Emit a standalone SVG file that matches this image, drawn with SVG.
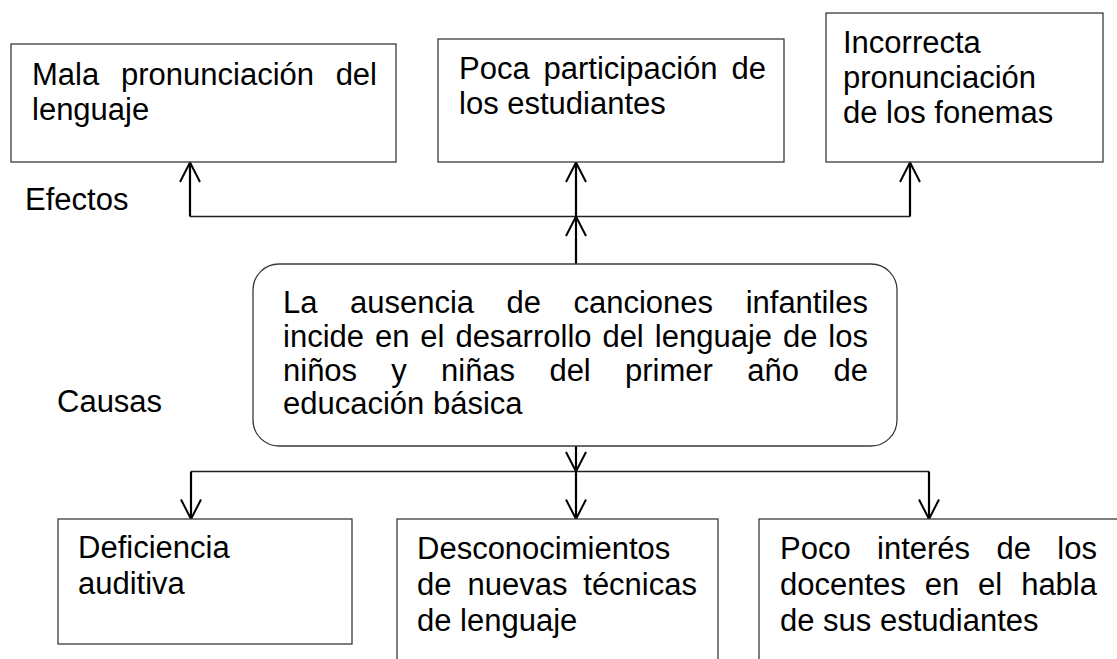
<svg xmlns="http://www.w3.org/2000/svg" width="1117" height="659" viewBox="0 0 1117 659">
<defs>
<marker id="v" markerUnits="userSpaceOnUse" markerWidth="30" markerHeight="30" refX="0" refY="0" orient="auto" overflow="visible" viewBox="-25 -15 30 30">
<path d="M-19.5,-10 L0,0 L-19.5,10" fill="none" stroke="#000" stroke-width="2"/>
</marker>
<style>
.box{fill:#fff;stroke:#3a3a3a;stroke-width:1.3}
.t{font-family:"Liberation Sans",Arial,sans-serif;font-size:31px;fill:#000}
.arr{stroke:#000;stroke-width:2.2;fill:none;marker-end:url(#v)}
.ln{stroke:#222;stroke-width:1.3;fill:none}
</style>
</defs>
<rect width="1117" height="659" fill="#fff"/>
<g id="connectors">
<line class="ln" x1="190" y1="216.5" x2="910" y2="216.5"/>
<line class="arr" x1="190" y1="216.5" x2="190" y2="162.5"/>
<line class="arr" x1="576" y1="216.5" x2="576" y2="162.5"/>
<line class="arr" x1="910" y1="216.5" x2="910" y2="162.5"/>
<line class="arr" x1="576" y1="264" x2="576" y2="216.5"/>
<line class="arr" x1="576" y1="446" x2="576" y2="471.5"/>
<line class="ln" x1="191" y1="471.5" x2="929" y2="471.5"/>
<line class="arr" x1="191" y1="471.5" x2="191" y2="519"/>
<line class="arr" x1="576" y1="471.5" x2="576" y2="519"/>
<line class="arr" x1="929" y1="471.5" x2="929" y2="519"/>
</g>
<g id="efectos-label"><text class="t" x="25" y="210">Efectos</text></g>
<g id="causas-label"><text class="t" x="57" y="412">Causas</text></g>
<g id="efecto1">
<rect class="box" x="11" y="44" width="385" height="118"/>
<text class="t" y="85"><tspan x="32">Mala</tspan><tspan x="121">pronunciación</tspan><tspan x="377" text-anchor="end">del</tspan></text>
<text class="t" x="32" y="120">lenguaje</text>
</g>
<g id="efecto2">
<rect class="box" x="438" y="39" width="346" height="123"/>
<text class="t" y="79"><tspan x="459">Poca</tspan><tspan x="543.5">participación</tspan><tspan x="766" text-anchor="end">de</tspan></text>
<text class="t" x="459" y="114">los estudiantes</text>
</g>
<g id="efecto3">
<rect class="box" x="826" y="13" width="277" height="149"/>
<text class="t" x="843" y="53">Incorrecta</text>
<text class="t" x="843" y="88">pronunciación</text>
<text class="t" x="843" y="123">de los fonemas</text>
</g>
<g id="problema">
<rect class="box" x="253" y="264" width="644" height="182" rx="26" ry="26"/>
<text class="t" y="313"><tspan x="283">La</tspan><tspan x="350">ausencia</tspan><tspan x="506.5">de</tspan><tspan x="573.5">canciones</tspan><tspan x="868" text-anchor="end">infantiles</tspan></text>
<text class="t" y="347"><tspan x="283">incide</tspan><tspan x="375">en</tspan><tspan x="420.3">el</tspan><tspan x="455.4">desarrollo</tspan><tspan x="602.4">del</tspan><tspan x="654.8">lenguaje</tspan><tspan x="783">de</tspan><tspan x="868" text-anchor="end">los</tspan></text>
<text class="t" y="380.5"><tspan x="283">niños</tspan><tspan x="391.3">y</tspan><tspan x="441">niñas</tspan><tspan x="549.4">del</tspan><tspan x="625">primer</tspan><tspan x="747.2">año</tspan><tspan x="868" text-anchor="end">de</tspan></text>
<text class="t" x="283" y="414">educación básica</text>
</g>
<g id="causa1">
<rect class="box" x="58" y="519" width="294" height="125"/>
<text class="t" x="78" y="558">Deficiencia</text>
<text class="t" x="78" y="594">auditiva</text>
</g>
<g id="causa2">
<rect class="box" x="397" y="519" width="321" height="160"/>
<text class="t" x="417" y="559">Desconocimientos</text>
<text class="t" y="595"><tspan x="417">de</tspan><tspan x="467.5">nuevas</tspan><tspan x="697" text-anchor="end">técnicas</tspan></text>
<text class="t" x="417" y="631">de lenguaje</text>
</g>
<g id="causa3">
<rect class="box" x="759" y="519" width="380" height="160"/>
<text class="t" y="559"><tspan x="780">Poco</tspan><tspan x="877">interés</tspan><tspan x="996.4">de</tspan><tspan x="1097" text-anchor="end">los</tspan></text>
<text class="t" y="595"><tspan x="780">docentes</tspan><tspan x="924.7">en</tspan><tspan x="978.1">el</tspan><tspan x="1097" text-anchor="end">habla</tspan></text>
<text class="t" x="780" y="631">de sus estudiantes</text>
</g>
</svg>
